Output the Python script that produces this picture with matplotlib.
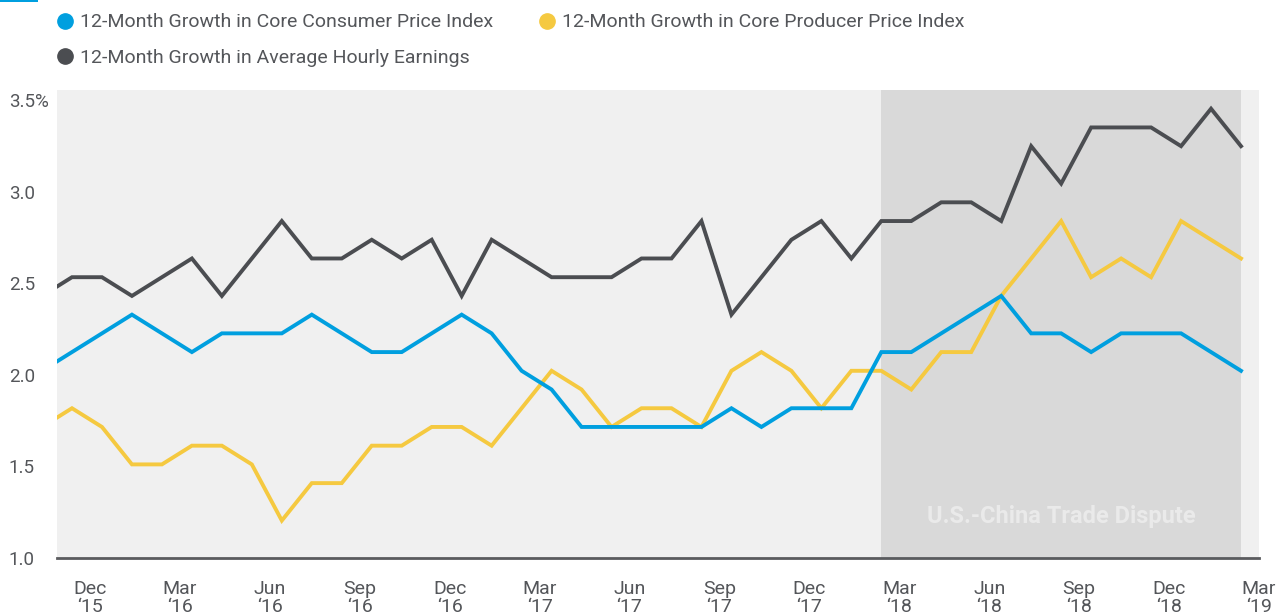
import matplotlib.pyplot as plt
from matplotlib.patches import Rectangle
from matplotlib.lines import Line2D
from matplotlib.transforms import ScaledTranslation

# monthly values, Nov '15 .. Mar '19 (the Nov '15 point sits just outside the left edge)
cpi = [2.0, 2.1, 2.2, 2.3, 2.2, 2.1, 2.2, 2.2, 2.2, 2.3, 2.2, 2.1, 2.1, 2.2,
       2.3, 2.2, 2.0, 1.9, 1.7, 1.7, 1.7, 1.7, 1.7, 1.8, 1.7, 1.8, 1.8, 1.8,
       2.1, 2.1, 2.2, 2.3, 2.4, 2.2, 2.2, 2.1, 2.2, 2.2, 2.2, 2.1, 2.0]
ppi = [1.7, 1.8, 1.7, 1.5, 1.5, 1.6, 1.6, 1.5, 1.2, 1.4, 1.4, 1.6, 1.6, 1.7,
       1.7, 1.6, 1.8, 2.0, 1.9, 1.7, 1.8, 1.8, 1.7, 2.0, 2.1, 2.0, 1.8, 2.0,
       2.0, 1.9, 2.1, 2.1, 2.4, 2.6, 2.8, 2.5, 2.6, 2.5, 2.8, 2.7, 2.6]
ahe = [2.4, 2.5, 2.5, 2.4, 2.5, 2.6, 2.4, 2.6, 2.8, 2.6, 2.6, 2.7, 2.6, 2.7,
       2.4, 2.7, 2.6, 2.5, 2.5, 2.5, 2.6, 2.6, 2.8, 2.3, 2.5, 2.7, 2.8, 2.6,
       2.8, 2.8, 2.9, 2.9, 2.8, 3.2, 3.0, 3.3, 3.3, 3.3, 3.2, 3.4, 3.2]
months = list(range(-1, 40))  # 0 = Dec '15

tick_months = list(range(0, 40, 3))
tick_labels = ["Dec\n\u201815", "Mar\n\u201816", "Jun\n\u201816", "Sep\n\u201816",
               "Dec\n\u201816", "Mar\n\u201817", "Jun\n\u201817", "Sep\n\u201817",
               "Dec\n\u201817", "Mar\n\u201818", "Jun\n\u201818", "Sep\n\u201818",
               "Dec\n\u201818", "Mar\n\u201819"]
y_ticks = [1.0, 1.5, 2.0, 2.5, 3.0, 3.5]
y_labels = ["1.0", "1.5", "2.0", "2.5", "3.0", "3.5%"]
dispute_start, dispute_end = 27, 39

BLUE = "#009FDF"
YELLOW = "#F5C940"
DARK = "#4B4D51"
TXT = "#54565A"
FONT = ["Liberation Sans Narrow", "Roboto", "DejaVu Sans"]

plt.rcParams["font.family"] = FONT

fig = plt.figure(figsize=(12.81, 6.16), dpi=100)
ax = fig.add_axes([57 / 1281, 1 - 558 / 616, 1202 / 1281, 468 / 616])
ax.set_facecolor("#F0F0F0")

ax.axvspan(dispute_start, dispute_end, color="#D9D9D9", lw=0, zorder=0)
ax.text((dispute_start + dispute_end) / 2, 1.22, "U.S.-China Trade Dispute",
        ha="center", va="center", fontsize=17, fontweight="bold",
        color="#EAEAEA", zorder=1)

ax.plot(months, ahe, color=DARK, lw=2.8, zorder=3, solid_joinstyle="miter")
ax.plot(months, ppi, color=YELLOW, lw=2.8, zorder=4, solid_joinstyle="miter")
ax.plot(months, cpi, color=BLUE, lw=2.8, zorder=5, solid_joinstyle="miter")

ax.set_xlim(-0.5, 39.57)
ax.set_ylim(1.0, 3.5)

ax.set_xticks([m + 0.6 for m in tick_months])
ax.set_xticklabels(tick_labels, fontsize=14, color=TXT, linespacing=1.0)
ax.set_yticks(y_ticks)
ax.set_yticklabels(y_labels, fontsize=13.5, color=TXT)
ax.tick_params(length=0, axis="x", pad=16)
ax.tick_params(length=0, axis="y", pad=6)
for val, lab in zip(y_ticks, ax.get_yticklabels()):
    lab.set_horizontalalignment("left")
    lab.set_x(-40 / 1202)
    # labels in the source sit a little below their gridline value near the top
    drop = (val - 1.0) / 2.5 * 10 / 100
    lab.set_transform(lab.get_transform() + ScaledTranslation(0, -drop, fig.dpi_scale_trans))

for s in ["top", "right", "left"]:
    ax.spines[s].set_visible(False)
ax.spines["bottom"].set_color("#5A5B5E")
ax.spines["bottom"].set_linewidth(2)
ax.spines["bottom"].set_zorder(6)

handles = [
    Line2D([], [], marker="o", ls="", color=BLUE, markersize=11),
    Line2D([], [], marker="o", ls="", color=DARK, markersize=11),
    Line2D([], [], marker="o", ls="", color=YELLOW, markersize=11),
]
names = ["12-Month Growth in Core Consumer Price Index",
         "12-Month Growth in Average Hourly Earnings",
         "12-Month Growth in Core Producer Price Index"]
leg = fig.legend(handles, names, ncol=2, loc="upper left",
                 bbox_to_anchor=(36 / 1281, 1 + 4 / 616), frameon=False,
                 fontsize=14, handletextpad=0.15, columnspacing=2.2,
                 labelspacing=0.9, handlelength=1.2)
for t in leg.get_texts():
    t.set_color(TXT)

fig.patches.append(Rectangle((0, 1 - 2 / 616), 38 / 1281, 2 / 616,
                             transform=fig.transFigure, color=BLUE, lw=0))

fig.savefig("out.png", dpi=100)
